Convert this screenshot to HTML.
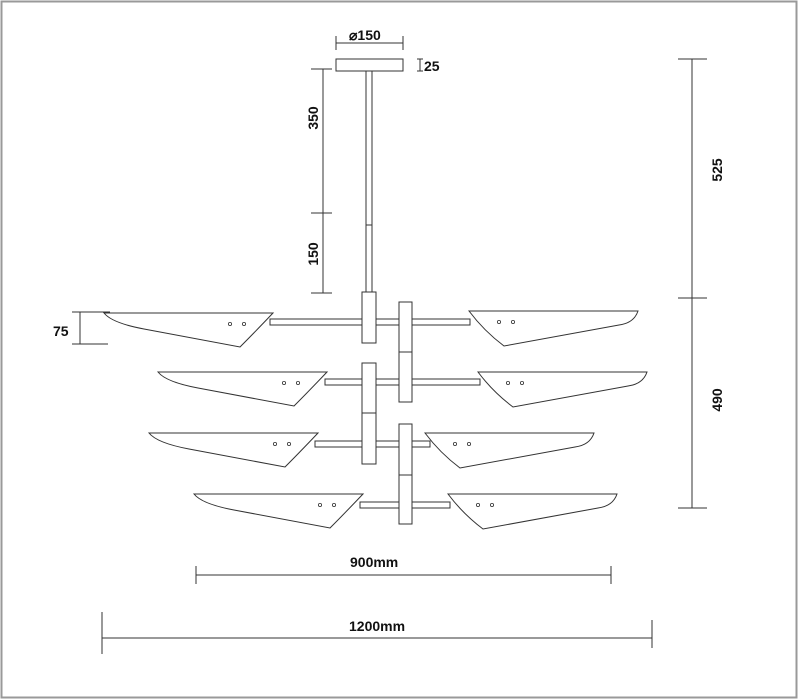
<!DOCTYPE html>
<html><head><meta charset="utf-8"><style>
html,body{margin:0;padding:0;background:#fff}
svg{display:block}
text{font-family:"Liberation Sans",sans-serif;font-weight:bold;font-size:14px;fill:#111}
</style></head><body>
<svg width="799" height="699" viewBox="0 0 799 699" xmlns="http://www.w3.org/2000/svg">
<rect x="1.5" y="1.5" width="795" height="696" fill="#fff" stroke="#999" stroke-width="2"/>
<g stroke="#333" stroke-width="1" fill="none">
<path d="M336 36V50M403 36V50M336 43H403"/>
<rect x="336" y="59" width="67" height="12" fill="#fff"/>
<path d="M420 59V71M417 59H423M417 71H423"/>
<rect x="366" y="71" width="6" height="222" fill="#fff"/>
<path d="M366 225H372"/>
<path d="M323 69V293M311 69H332M311 213H332M311 293H332"/>
<path d="M692 59V508M678 59H707M678 298H707M678 508H707"/>
<path d="M80 312V344M72 312H110M72 344H108"/>
<path d="M196 566V584M611 566V584M196 575H611"/>
<path d="M102 612V654M652 620V648M102 638H652"/>
</g>
<g stroke="#333" stroke-width="1" fill="#fff">
<rect x="270" y="319" width="200" height="6"/>
<rect x="325" y="379" width="155" height="6"/>
<rect x="315" y="441" width="115" height="6"/>
<rect x="360" y="502" width="90" height="6"/>
<rect x="362" y="292" width="14" height="51"/>
<rect x="399" y="302" width="13" height="100"/><path d="M399 352H412"/>
<rect x="362" y="363" width="14" height="101"/><path d="M362 413H376"/>
<rect x="399" y="424" width="13" height="100"/><path d="M399 475H412"/>
</g>
<defs>
<path id="L" d="M0 0H169Q150 20 136 34L40 16Q8 10 0 0Z"/>
<path id="R" d="M0 0H169Q165 12 150 14L35 35Q15 20 0 0Z"/>
</defs>
<g stroke="#333" stroke-width="1" fill="#fff">
<use href="#L" x="104" y="313"/>
<use href="#R" x="469" y="311"/>
<use href="#L" x="158" y="372"/>
<use href="#R" x="478" y="372"/>
<use href="#L" x="149" y="433"/>
<use href="#R" x="425" y="433"/>
<use href="#L" x="194" y="494"/>
<use href="#R" x="448" y="494"/>
</g>
<g stroke="#333" stroke-width="0.8" fill="none">
<circle cx="230" cy="324" r="1.6"/><circle cx="244" cy="324" r="1.6"/>
<circle cx="499" cy="322" r="1.6"/><circle cx="513" cy="322" r="1.6"/>
<circle cx="284" cy="383" r="1.6"/><circle cx="298" cy="383" r="1.6"/>
<circle cx="508" cy="383" r="1.6"/><circle cx="522" cy="383" r="1.6"/>
<circle cx="275" cy="444" r="1.6"/><circle cx="289" cy="444" r="1.6"/>
<circle cx="455" cy="444" r="1.6"/><circle cx="469" cy="444" r="1.6"/>
<circle cx="320" cy="505" r="1.6"/><circle cx="334" cy="505" r="1.6"/>
<circle cx="478" cy="505" r="1.6"/><circle cx="492" cy="505" r="1.6"/>
</g>
<text x="349" y="40">⌀150</text>
<text x="424" y="71">25</text>
<text transform="translate(318,118) rotate(-90)" text-anchor="middle">350</text>
<text transform="translate(318,254) rotate(-90)" text-anchor="middle">150</text>
<text transform="translate(722,170) rotate(-90)" text-anchor="middle">525</text>
<text transform="translate(722,400) rotate(-90)" text-anchor="middle">490</text>
<text x="53" y="336">75</text>
<text x="350" y="567">900mm</text>
<text x="349" y="631">1200mm</text>
</svg>
</body></html>
